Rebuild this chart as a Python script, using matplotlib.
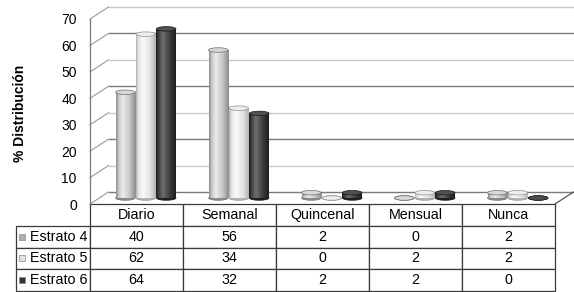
import numpy as np
import matplotlib
matplotlib.use("Agg")
from matplotlib import pyplot as plt
from matplotlib.patches import Ellipse
from matplotlib.colors import LinearSegmentedColormap

plt.rcParams['font.family'] = ['Liberation Sans', 'DejaVu Sans']

##### data
categories = ["Diario", "Semanal", "Quincenal", "Mensual", "Nunca"]
series_names = ["Estrato 4", "Estrato 5", "Estrato 6"]
estrato_4 = [40, 56, 2, 0, 2]
estrato_5 = [62, 34, 0, 2, 2]
estrato_6 = [64, 32, 2, 2, 0]
y_ticks = [0, 10, 20, 30, 40, 50, 60, 70]

all_values = [estrato_4, estrato_5, estrato_6]

# cylinder shading: edge, base, highlight, top face, outline
shades = [
    ("#8c8c8c", "#c4c4c4", "#ececec", "#d8d8d8", "#6e6e6e"),
    ("#b4b4b4", "#e4e4e4", "#fafafa", "#eeeeee", "#8e8e8e"),
    ("#1e1e1e", "#3c3c3c", "#6e6e6e", "#505050", "#161616"),
]
legend_colors = ["#b0b0b0", "#e2e2e2", "#333333"]

W, H = 574, 292
fig = plt.figure(figsize=(W / 100, H / 100), dpi=100)
fig.patch.set_facecolor("white")

# front plane of the "3d" box in pixels
left_px, right_px, bottom_px, top_px = 90, 555, 204, 19
ax = fig.add_axes([left_px / W, 1 - bottom_px / H,
                   (right_px - left_px) / W, (bottom_px - top_px) / H])
ax.set_xlim(-0.5, len(categories) - 0.5)
ax.set_ylim(0, 70)
for s in ax.spines.values():
    s.set_visible(False)
ax.set_xticks([])
ax.set_yticks(y_ticks)
ax.tick_params(axis="y", length=0, pad=9.5, labelsize=10)

px_x = (right_px - left_px) / len(categories)   # px per x unit
px_y = (bottom_px - top_px) / 70.0               # px per y unit
dx = 18.5 / px_x     # depth offset in data units
dy = 12.0 / px_y

x0, x1 = -0.5, len(categories) - 0.5

# walls / gridlines
for k, v in enumerate(y_ticks):
    col = "#7a7a7a" if k % 2 == 0 else "#c8c8c8"
    ax.plot([x0 + dx, x1 + dx + 1], [v + dy, v + dy], color=col, lw=1.0,
            clip_on=False, zorder=1)
    ax.plot([x0, x0 + dx], [v, v + dy], color="#9a9a9a", lw=0.8,
            clip_on=False, zorder=1)
ax.plot([x0, x0], [0, 70], color="#7a7a7a", lw=0.9, clip_on=False, zorder=1)
ax.plot([x1, x1 + dx], [0, dy], color="#555555", lw=0.9, clip_on=False, zorder=1)

# bars (cylinders)
bar_w = 0.21
step = 0.22
cap_h = 4.5 / px_y
for j, vals in enumerate(all_values):
    edge, base, hi, topc, outl = shades[j]
    cmap = LinearSegmentedColormap.from_list("c%d" % j,
                                             [edge, base, hi, base, edge],)
    grad = np.interp(np.linspace(0, 1, 60), [0.0, 0.15, 0.35, 0.7, 1.0],
                     [0, 0.3, 0.5, 0.75, 1.0])[None, :]
    xs = np.arange(len(categories)) + (j - 1) * step + dx / 2
    bars = ax.bar(xs, vals, width=bar_w, bottom=dy / 2, color=base,
                  edgecolor="none", zorder=3 + j * 0.01)
    for b, v in zip(bars, vals):
        bx, by, bw, bh = b.get_x(), b.get_y(), b.get_width(), b.get_height()
        ax.add_patch(Ellipse((bx + bw / 2, by), bw, cap_h, facecolor=edge,
                             edgecolor=outl, lw=0.5, zorder=2.5, clip_on=False))
        if bh > 0:
            im = ax.imshow(grad, extent=[bx, bx + bw, by, by + bh], cmap=cmap,
                           aspect="auto", zorder=3.1, interpolation="bilinear")
            im.set_clip_path(b)
        ax.add_patch(Ellipse((bx + bw / 2, by + bh), bw, cap_h, facecolor=topc,
                             edgecolor=outl, lw=0.5, zorder=4, clip_on=False))

ax.set_xlim(x0, x1)
ax.set_ylim(0, 70)

# data table
table_left_px, table_bottom_px = 16, 291
ax_w_px = right_px - left_px
ax_h_px = bottom_px - top_px
tb_x = (table_left_px - left_px) / ax_w_px
tb_w = (right_px - table_left_px) / ax_w_px
tb_h = (table_bottom_px - bottom_px) / ax_h_px
tb_y = -tb_h

cell_text = [[name] + [str(v) for v in vals]
             for name, vals in zip(series_names, all_values)]
label_w = left_px - table_left_px
col_w = [label_w] + [px_x] * len(categories)
col_w = [c / sum(col_w) for c in col_w]
tbl = ax.table(cellText=cell_text, colLabels=[""] + categories,
               colWidths=col_w, cellLoc="center",
               bbox=[tb_x, tb_y, tb_w, tb_h])
tbl.auto_set_font_size(False)
tbl.set_fontsize(10.3)
for (r, c), cell in tbl.get_celld().items():
    cell.set_edgecolor("#3a3a3a")
    cell.set_linewidth(0.9)
    if r == 0 and c == 0:
        cell.set_visible(False)
    elif c == 0:
        cell._text.set_horizontalalignment("right")
        cell.PAD = 0.03

# legend keys in row labels
n_rows = len(series_names) + 1
for i, col in enumerate(legend_colors):
    yc = tb_y + tb_h * (1 - (i + 1.5) / n_rows)
    ax.scatter([(22 - left_px) / ax_w_px], [yc], marker="s", s=20,
               color=col, edgecolor="#888888", linewidths=0.5,
               transform=ax.transAxes, clip_on=False, zorder=5)

fig.text(20 / W, 1 - 113 / H, "% Distribución", rotation=90, fontsize=10,
         fontweight="bold", ha="center", va="center")

fig.savefig("out.png", dpi=100)
